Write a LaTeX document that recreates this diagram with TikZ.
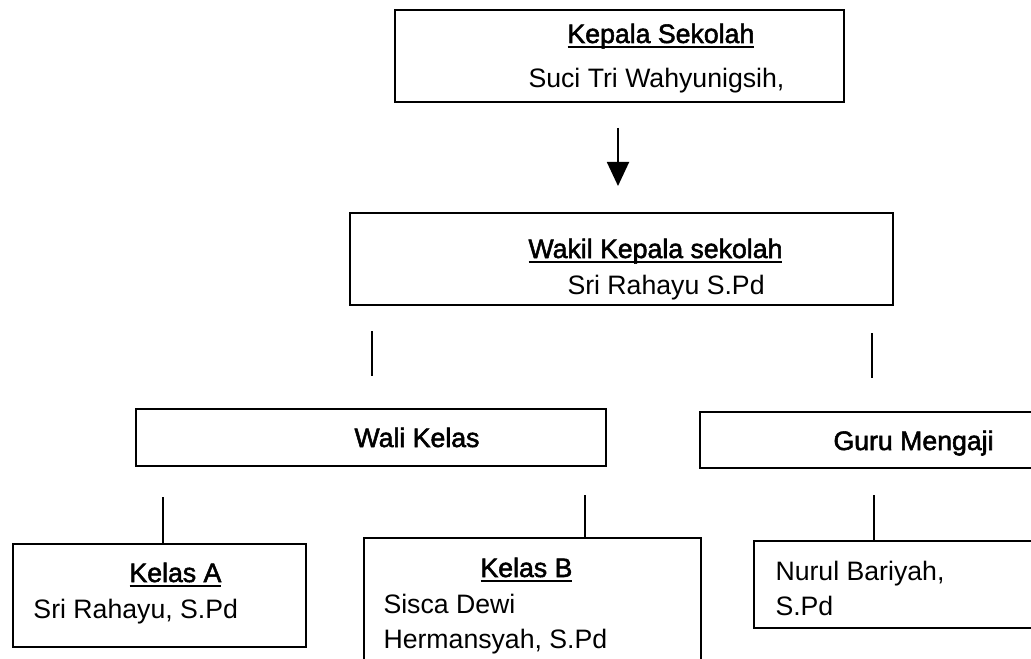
\documentclass[tikz,border=0pt]{standalone}
\usepackage{fontspec}
\setmainfont{Liberation Sans}
\newfontfamily\medfont[FakeBold=2]{Liberation Sans}
\usetikzlibrary{arrows.meta}

\tikzset{every picture/.style={line width=0.75pt}}
\tikzset{
	orgbox/.style 2 args={draw, line width=1.8pt, anchor=north west, inner sep=0pt, minimum width=#1*0.75pt, minimum height=#2*0.75pt},
	txt/.style={anchor=base west, inner sep=0pt, font=\fontsize{20}{24}\selectfont},
	head/.style={anchor=base west, inner sep=0pt, font=\medfont\fontsize{20}{24}\selectfont},
	link/.style={line width=1.4pt}
}
\newcommand{\undl}[1]{\setbox0\hbox{#1}\rlap{\rule[-3.8pt]{\wd0}{1.2pt}}\box0}

\begin{document}
\begin{tikzpicture}[x=0.75pt,y=0.75pt,yscale=-1,xscale=1]
	\useasboundingbox (0,0) rectangle (1031,659);
	
	%Shape: Rectangle [kepala]
	\node [orgbox={449}{92}] (kepala) at (394,9) {};
	%Shape: Rectangle [wakil]
	\node [orgbox={543}{92}] (wakil) at (349,212) {};
	%Shape: Rectangle [wali]
	\node [orgbox={470}{57}] (wali) at (135,408) {};
	%Shape: Rectangle [guru]
	\node [orgbox={360}{56}] (guru) at (699,411) {};
	%Shape: Rectangle [kelasa]
	\node [orgbox={293}{103}] (kelasa) at (12,543) {};
	%Shape: Rectangle [kelasb]
	\node [orgbox={337}{140}] (kelasb) at (363,537) {};
	%Shape: Rectangle [nurul]
	\node [orgbox={300}{87}] (nurul) at (753,540) {};
	
	% Text Node
	\node [head] (tkepala) at (567,43) {\undl{Kepala Sekolah}};
	% Text Node
	\node [txt] (tsuci) at (528,88) {Suci Tri Wahyunigsih,};
	% Text Node
	\node [head] (twakil) at (528,258) {\undl{Wakil Kepala sekolah}};
	% Text Node
	\node [txt] (tsri) at (567,295) {Sri Rahayu S.Pd};
	% Text Node
	\node [head] (twali) at (354,447) {Wali Kelas};
	% Text Node
	\node [head] (tguru) at (833,450) {Guru Mengaji};
	% Text Node
	\node [head] (tkelasa) at (129,582) {\undl{Kelas A}};
	% Text Node
	\node [txt] (tsria) at (33,618) {Sri Rahayu, S.Pd};
	% Text Node
	\node [head] (tkelasb) at (480,577) {\undl{Kelas B}};
	% Text Node
	\node [txt] (tsisca) at (383,613) {Sisca Dewi};
	% Text Node
	\node [txt] (therman) at (383,648) {Hermansyah, S.Pd};
	% Text Node
	\node [txt] (tnurul) at (775,580) {Nurul Bariyah,};
	% Text Node
	\node [txt] (tspd) at (775,615) {S.Pd};
	
	%Straight Lines [arrow]
	\coordinate (arrtop) at (618,128);
	\coordinate (arrtip) at (618,186);
	\draw [link, -{Triangle[width=16.5pt,length=18pt]}] (arrtop) -- (arrtip);
	%Straight Lines
	\coordinate (l1) at (372,331);
	\draw [link] (l1) -- (372,376);
	%Straight Lines
	\coordinate (l2) at (872,333);
	\draw [link] (l2) -- (872,378);
	%Straight Lines
	\coordinate (la) at (163,497);
	\draw [link] (la) -- (la |- kelasa.north);
	%Straight Lines
	\coordinate (lb) at (585,495);
	\draw [link] (lb) -- (lb |- kelasb.north);
	%Straight Lines
	\coordinate (lg) at (874,495);
	\draw [link] (lg) -- (lg |- nurul.north);
	
\end{tikzpicture}
\end{document}
